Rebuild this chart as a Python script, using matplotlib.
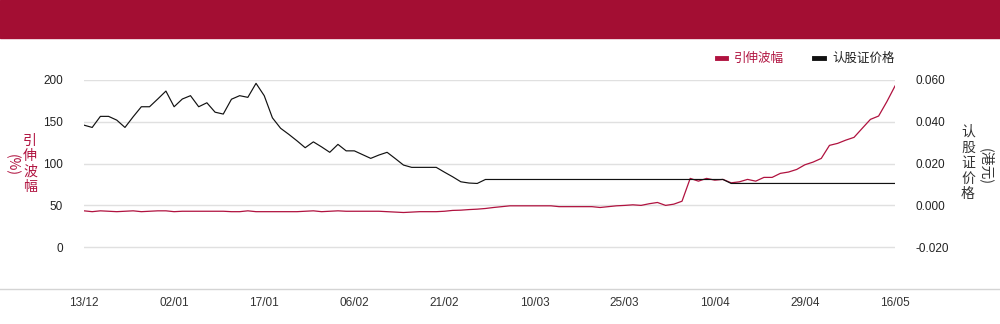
import matplotlib
matplotlib.use("Agg")
import matplotlib.pyplot as plt
from matplotlib.lines import Line2D
from matplotlib.patches import Rectangle

plt.rcParams['font.family'] = ['Liberation Sans', 'Noto Sans CJK SC', 'DejaVu Sans']
CJK = ['Noto Sans CJK SC', 'DejaVu Sans']

# ---- data -------------------------------------------------------------------
tick_labels = ['13/12', '02/01', '17/01', '06/02', '21/02',
               '10/03', '25/03', '10/04', '29/04', '16/05']
tick_step = 11

# implied volatility (%), left axis
vol = [43.5, 42.5, 43.5, 43.0, 42.5, 43.0, 43.5, 42.5, 43.0, 43.5,
       43.5, 42.5, 43.0, 43.0, 43.0, 43.0, 43.0, 43.0, 42.5, 42.5,
       43.5, 42.5, 42.5, 42.5, 42.5, 42.5, 42.5, 43.0, 43.5, 42.5,
       43.0, 43.5, 43.0, 43.0, 43.0, 43.0, 43.0, 42.5, 42.0, 41.5,
       42.0, 42.5, 42.5, 42.5, 43.0, 44.0, 44.3, 45.0, 45.5, 46.3,
       47.5, 48.5, 49.5, 49.5, 49.5, 49.5, 49.5, 49.5, 48.5, 48.5,
       48.5, 48.5, 48.5, 47.5, 48.5, 49.5, 50.0, 50.7, 50.0, 52.0,
       53.5, 50.0, 51.5, 55.0, 82.3, 79.0, 82.3, 80.2, 81.1, 77.0,
       78.2, 81.1, 79.0, 83.5, 83.5, 88.3, 89.9, 93.0, 98.6, 101.8,
       106.2, 121.8, 124.2, 128.1, 131.4, 142.2, 152.9, 156.9, 174.0, 192.8]

# warrant price (HKD), right axis
price = [0.0384, 0.0373, 0.0426, 0.0426, 0.0408, 0.0373, 0.0424, 0.0472, 0.0472, 0.0509,
         0.0547, 0.0472, 0.0509, 0.0525, 0.0472, 0.0491, 0.0446, 0.0437, 0.0508, 0.0525,
         0.0517, 0.0584, 0.0525, 0.0419, 0.0369, 0.0340, 0.0309, 0.0276, 0.0304, 0.0280,
         0.0254, 0.0292, 0.0261, 0.0261, 0.0243, 0.0225, 0.0241, 0.0254, 0.0224, 0.0193,
         0.0182, 0.0182, 0.0182, 0.0182, 0.0159, 0.0137, 0.0113, 0.0107, 0.0105, 0.0124] \
        + [0.0124] * 29 + [0.0105] * 21

RED = '#b0123f'
HEADER = '#a30e33'
W, H = 1000, 324

fig = plt.figure(figsize=(W / 100, H / 100), dpi=100)

# header band
fig.patches.append(Rectangle((0, 1 - 38 / H), 1, 38 / H, transform=fig.transFigure,
                             color=HEADER, zorder=0))
# bottom rule across the whole width
fig.add_artist(Line2D([0, 1], [1 - 289 / H] * 2, transform=fig.transFigure,
                      color='#d4d4d4', lw=1))

ax = fig.add_axes([84 / W, 1 - 289 / H, 811 / W, 209 / H])
ax2 = ax.twinx()

x = list(range(len(vol)))
ax.plot(x, vol, color=RED, lw=0.9)
ax2.plot(x, price, color='#111111', lw=0.85)

ax.set_xlim(0, len(vol) - 1)
ax.set_ylim(-50, 200)
ax2.set_ylim(-0.04, 0.06)
ax.set_yticks([0, 50, 100, 150, 200])
ax2.set_yticks([-0.02, 0.0, 0.02, 0.04, 0.06])
ax2.set_yticklabels([f'{v:.3f}' for v in [-0.02, 0.0, 0.02, 0.04, 0.06]])
ax.set_xticks([i * tick_step for i in range(len(tick_labels))])
ax.set_xticklabels(tick_labels)

ax.grid(axis='y', color='#e0e0e0', lw=1)
ax.set_axisbelow(True)
for a in (ax, ax2):
    for s in a.spines.values():
        s.set_visible(False)
ax.tick_params(axis='y', length=0, pad=15, labelsize=8.5, labelcolor='#222222')
ax.tick_params(axis='x', length=0, pad=6, labelsize=8.5, labelcolor='#333333')
ax2.tick_params(axis='y', length=0, pad=15, labelsize=8.5, labelcolor='#222222')

# axis titles, written vertically
fig.text(30 / W, 1 - 164 / H, '引\n伸\n波\n幅', family=CJK, fontsize=10, color=RED,
         ha='center', va='center', linespacing=1.12)
fig.text(12 / W, 1 - 165 / H, '(%)', family=CJK, fontsize=10, color=RED,
         ha='center', va='center', rotation=-90)
fig.text(968 / W, 1 - 163 / H, '认\n股\n证\n价\n格', family=CJK, fontsize=10,
         color='#333333', ha='center', va='center', linespacing=1.15)
fig.text(986 / W, 1 - 167 / H, '(港元)', family=CJK, fontsize=10, color='#333333',
         ha='center', va='center', rotation=-90)

# legend
ly = 1 - 58 / H
fig.add_artist(Line2D([717 / W, 726 / W], [ly, ly], transform=fig.transFigure,
                      color=RED, lw=3.5))
fig.text(734 / W, ly, '引伸波幅', family=CJK, fontsize=9, color=RED, va='center')
fig.add_artist(Line2D([814 / W, 824 / W], [ly, ly], transform=fig.transFigure,
                      color='#111111', lw=3.5))
fig.text(832 / W, ly, '认股证价格', family=CJK, fontsize=9, color='#222222', va='center')

fig.savefig('out.png', dpi=100)
